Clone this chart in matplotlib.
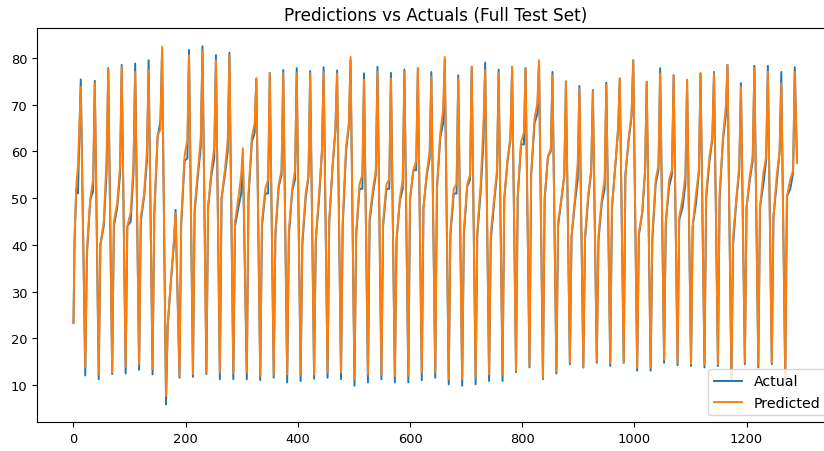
import matplotlib
matplotlib.use("Agg")
import matplotlib.pyplot as plt

# ---------------- data ----------------
# opening partial cycle (hours 0..13)
start_hours = [0, 2, 5, 8, 13]
start_actual = [23.3, 41.0, 52.0, 51.0, 75.4]
start_pred = [23.3, 42.0, 52.5, 57.0, 73.8]

# hour index of each daily trough
trough_hours = [21, 45, 69, 93, 117, 141, 165, 189, 213, 237, 261, 285, 309,
                333, 357, 381, 405, 429, 453, 477, 501, 525, 549, 573, 597,
                621, 645, 669, 693, 717, 741, 765, 789, 813, 837, 861, 885,
                909, 933, 957, 981, 1005, 1029, 1053, 1077, 1101, 1125, 1149,
                1173, 1197, 1221, 1245, 1269]
# hours after the trough at which rise / mid / shoulder / peak are read
cycle_offsets = [0, 3, 9, 14, 17]

trough_actual = [12.1, 11.3, 12.4, 12.5, 13.3, 12.3, 5.9, 11.6, 11.8, 12.4,
                 11.3, 11.3, 11.3, 11.1, 11.6, 10.6, 10.9, 11.4, 11.6, 11.3,
                 9.9, 10.6, 11.3, 10.6, 10.6, 11.1, 11.6, 10.2, 9.9, 10.2,
                 10.9, 10.9, 12.8, 13.8, 11.3, 12.5, 14.5, 13.8, 14.8, 14.1,
                 14.8, 13.1, 13.1, 14.8, 14.3, 14.1, 13.8, 14.1, 10.9, 14.5,
                 13.8, 14.5, 10.9]
trough_pred = [13.8, 12.3, 12.8, 13.8, 14.5, 13.4, 7.7, 12.0, 12.3, 12.8,
               12.7, 12.5, 12.7, 12.0, 12.3, 12.3, 12.3, 12.3, 12.7, 12.7,
               11.3, 12.3, 12.3, 12.0, 12.0, 12.7, 12.7, 11.3, 11.3, 11.6,
               12.3, 12.3, 13.1, 14.1, 11.6, 13.0, 14.8, 13.8, 15.1, 14.8,
               14.8, 13.8, 13.8, 15.5, 14.8, 14.5, 14.5, 14.5, 11.5, 14.8,
               14.2, 14.8, 11.5]

rise_actual = [38, 40, 44, 44, 45, 46, 22.7, 44, 47, 48, 50, 44, 50, 44, 42,
               42, 40, 41, 45, 44, 42, 45, 44, 41, 49.7, 48, 52, 42, 42, 42,
               41, 49.7, 50, 55, 49.7, 44, 41.8, 41, 41, 48, 55, 42, 41, 44.7,
               45.4, 44, 50, 50, 40, 48, 48, 46, 50.4]
rise_pred = [39, 40, 45, 44, 46, 47, 23, 45, 48, 48, 50, 45, 51, 45, 43, 43,
             41, 41.2, 45, 45, 42.6, 46, 45, 41.2, 50, 48, 52, 43, 43, 43,
             42.6, 50, 50.5, 55, 50, 45, 42, 42, 42, 48, 55, 42.6, 42, 45, 46,
             44, 51, 51, 41.8, 48, 48, 46, 50.4]

mid_actual = [49.7, 44, 48, 45, 50.4, 63, 32.6, 58, 55, 55, 55, 48, 62, 51,
              52.5, 51.5, 50, 50, 56.8, 60, 52, 51, 52, 49.5, 56, 55, 63, 51,
              52.5, 51.5, 49, 58, 61.5, 66, 58.9, 49.7, 49, 50.4, 49, 56.8,
              62.5, 46.8, 53, 52.5, 48, 49, 58, 62.5, 49.7, 54, 53, 53.5, 52]
mid_pred = [50, 45, 49, 47, 51, 63.5, 33, 59, 56, 56, 56, 50, 63, 52, 53, 52,
            51, 51, 57, 61, 53, 52, 53, 50, 56, 55.5, 64, 52, 53, 53, 50,
            58.5, 62, 67, 59, 50, 50, 51, 50, 57, 63, 47, 54, 54, 50, 51, 59,
            63, 50, 55, 55.4, 55, 54]

shoulder_actual = [51.5, 55.5, 55, 55.4, 58, 66.5, 40, 58.5, 61, 58.5, 60, 51,
                   64, 51, 55, 54, 54.6, 60, 64.5, 65.5, 52, 55, 52, 52, 56,
                   58.5, 66, 51, 54, 62, 55, 62.5, 61.5, 68, 60, 54.6, 54,
                   55.4, 52, 64.6, 67.5, 55.4, 56, 55, 53, 55.4, 62.5, 67.5,
                   56, 58, 58, 60, 55.4]
shoulder_pred = [54, 58.5, 56.8, 57.5, 60.3, 64.6, 41, 62.5, 63.2, 61, 62.5,
                 55, 66, 54, 56, 56, 55, 60.3, 65, 66, 55, 56, 54, 54, 58, 60,
                 68.9, 53, 55, 66, 56, 63, 64, 70.3, 60.5, 55, 57.5, 56, 54,
                 65, 68, 56, 57, 56, 55, 56, 63, 69.6, 57, 59, 59, 60, 56]

peak_actual = [75.1, 77.8, 78.5, 78.8, 79.5, 81.5, 47.5, 81.7, 82.5, 80.6,
               81.1, 58.9, 75.6, 76.8, 77.4, 77.8, 77.2, 78.0, 77.3, 79.5,
               76.7, 78.1, 76.8, 77.5, 77.8, 77.0, 79.5, 76.3, 78.1, 79.0,
               77.5, 78.1, 77.8, 79.1, 77.0, 75.0, 74.0, 73.1, 74.7, 75.6,
               79.5, 74.9, 77.8, 76.3, 75.3, 76.7, 77.0, 78.5, 74.6, 78.3,
               78.3, 77.0, 78.0]
peak_pred = [74.6, 77.5, 78.1, 77.0, 77.4, 82.4, 46.8, 80.6, 81.7, 79.5,
             80.6, 60.7, 75.6, 76.8, 76.7, 76.7, 76.7, 77.0, 76.7, 80.2,
             75.3, 77.0, 75.6, 77.0, 77.8, 76.0, 80.2, 75.6, 78.1, 77.4,
             76.7, 78.1, 77.8, 79.5, 76.3, 74.9, 73.5, 72.8, 74.2, 75.6,
             79.5, 74.9, 76.7, 76.3, 75.3, 76.7, 76.7, 78.5, 73.8, 77.8,
             77.0, 74.6, 77.0]

# final sample
end_hour = 1290
end_actual = 57.8
end_pred = 57.5

# ---------------- assemble series ----------------
hours = list(start_hours)
actual = list(start_actual)
pred = list(start_pred)
for j, th in enumerate(trough_hours):
    va = [trough_actual[j], rise_actual[j], mid_actual[j], shoulder_actual[j], peak_actual[j]]
    vp = [trough_pred[j], rise_pred[j], mid_pred[j], shoulder_pred[j], peak_pred[j]]
    for off, a, p in zip(cycle_offsets, va, vp):
        hours.append(th + off)
        actual.append(a)
        pred.append(p)
hours.append(end_hour)
actual.append(end_actual)
pred.append(end_pred)

# ---------------- plot ----------------
W, H = 824, 452
fig = plt.figure(figsize=(W / 100, H / 100), dpi=100)
left, right, bottom, top = 37.3, 833.2, 423.3, 29.3
ax = fig.add_axes([left / W, (H - bottom) / H, (right - left) / W, (bottom - top) / H])

ax.plot(hours, actual, color="#1f77b4", lw=1.4, label="Actual")
ax.plot(hours, pred, color="#ff7f0e", lw=1.4, label="Predicted")

ax.set_xticks([0, 200, 400, 600, 800, 1000, 1200])
ax.set_yticks([10, 20, 30, 40, 50, 60, 70, 80])
ax.tick_params(labelsize=9.4)
ax.set_title("Predictions vs Actuals (Full Test Set)", fontsize=12.2)
ax.legend(loc="lower right", fontsize=10.2)

fig.savefig("out.png", dpi=100)
